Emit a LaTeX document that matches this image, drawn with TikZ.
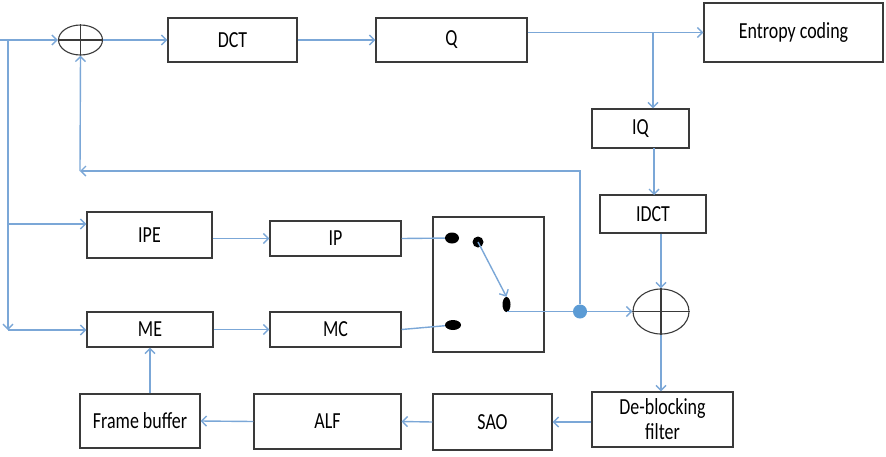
\documentclass[tikz,border=0pt]{standalone}
\usepackage{fontspec}
\setmainfont{Carlito}[FakeStretch=0.78]
\usepackage{xcolor}
\usetikzlibrary{positioning,shapes,arrows.meta,calc}
\definecolor{flowblue}{HTML}{7BA7D7}
\definecolor{dotblue}{HTML}{5B9BD5}
\definecolor{boxline}{HTML}{3A3A3A}

\begin{document}
\begin{tikzpicture}[x=1pt, y=-1pt,
    font=\fontsize{23}{24}\selectfont,
    >={Straight Barb[length=5pt,width=10pt]},
    block/.style={rectangle, draw=boxline, line width=1.1pt, inner sep=0pt, align=center},
    adder/.style={ellipse, draw=boxline, line width=1.1pt, inner sep=0pt},
    contact/.style={ellipse, fill=black, inner sep=0pt},
    flow/.style={draw=flowblue, line width=1.4pt},
    cross/.style={draw=boxline, line width=1.1pt}
]
\useasboundingbox (0,0) rectangle (886,456);

% forward path
\node[adder, minimum width=44pt, minimum height=30pt] (add1) at (80.5,40) {};
\node[block, minimum width=129pt, minimum height=44pt] (dct) at (232.5,40) {DCT};
\node[block, minimum width=151pt, minimum height=44pt] (q) at (451.5,40) {Q};
\node[block, minimum width=179pt, minimum height=59pt] (entropy) at (793.5,32.5) {Entropy coding};
\node[block, minimum width=97pt, minimum height=39pt] (iq) at (640.5,128.5) {IQ};
\node[block, minimum width=106pt, minimum height=38pt] (idct) at (653,214) {IDCT};
\node[adder, minimum width=56pt, minimum height=45pt] (add2) at (661,311.5) {};

% prediction
\node[block, minimum width=125pt, minimum height=46pt] (ipe) at (149.5,235) {IPE};
\node[block, minimum width=131pt, minimum height=35pt] (ip) at (335.5,238.5) {IP};
\node[block, minimum width=126pt, minimum height=35pt] (me) at (150,329.5) {ME};
\node[block, minimum width=131pt, minimum height=35pt] (mc) at (335.5,329.5) {MC};

% mode switch
\node[block, minimum width=111pt, minimum height=135pt] (switch) at (488.5,284.5) {};
\node[contact, minimum width=14pt, minimum height=11pt] (intra) at (452,238) {};
\node[contact, minimum width=11pt, minimum height=11pt] (pivot) at (478,242) {};
\node[contact, minimum width=8pt, minimum height=15pt] (out) at (506.5,304.5) {};
\node[contact, minimum width=16pt, minimum height=10pt] (inter) at (453,325) {};
\node[circle, fill=dotblue, minimum size=14pt, inner sep=0pt] (tap) at (580,311.5) {};

% in-loop filters
\node[block, minimum width=141pt, minimum height=55pt] (deblock) at (662.5,419.5) {De-blocking\\[1pt]filter};
\node[block, minimum width=119pt, minimum height=56pt] (sao) at (492.5,422) {SAO};
\node[block, minimum width=147pt, minimum height=55pt] (alf) at (327.5,421.5) {ALF};
\node[block, minimum width=120pt, minimum height=54pt] (fbuf) at (140,421) {Frame buffer};

% adder crosses
\draw[cross] (add1.west) -- (add1.east) (add1.north) -- (add1.south);
\draw[cross] (add2.west) -- (add2.east) (add2.north) -- (add2.south);

\coordinate (in) at (0,40);
\coordinate (split) at (8,40);
\coordinate (qsplit) at (653,32.5);
\coordinate (fbturn) at (80,171);

% connectors
\draw[flow, ->] (in) -- (add1.west);
\draw[flow, ->] (split) -- (8,330);
\draw[flow, ->] (8,224) -- (ipe.west |- 0,224);
\draw[flow, ->] (8,330) -- (me.west |- 0,330);
\draw[flow, ->] (add1.east) -- (dct.west);
\draw[flow, ->] (dct.east) -- (q.west);
\draw[flow, ->] (entropy.west -| q.east) -- (entropy.west);
\draw[flow, ->] (qsplit) -- (qsplit |- iq.north);
\draw[flow, ->] (654,148) -- (654,195);
\draw[flow, ->] (add2.north |- idct.south) -- (add2.north);
\draw[flow, ->] (add2.south) -- (add2.south |- deblock.north);
\draw[flow, ->] (deblock.west |- sao.east) -- (sao.east);
\draw[flow, ->] (sao.west) -- (alf.east);
\draw[flow, ->] (alf.west) -- (fbuf.east);
\draw[flow, ->] (me.south |- fbuf.north) -- (me.south);
\draw[flow, ->] (ipe.east |- ip.west) -- (ip.west);
\draw[flow, ->] (me.east) -- (mc.west);
\draw[flow] (ip.east) -- (intra);
\draw[flow] (mc.east) -- (inter);
\draw[flow, ->] (pivot.center) -- (out.north);
\draw[flow] (out.center |- tap) -- (tap);
\draw[flow, ->] (tap) -- (add2.west);
\draw[flow, ->] (tap) |- (fbturn);
\draw[flow, ->] (fbturn) -- (add1.south);
\end{tikzpicture}
\end{document}
